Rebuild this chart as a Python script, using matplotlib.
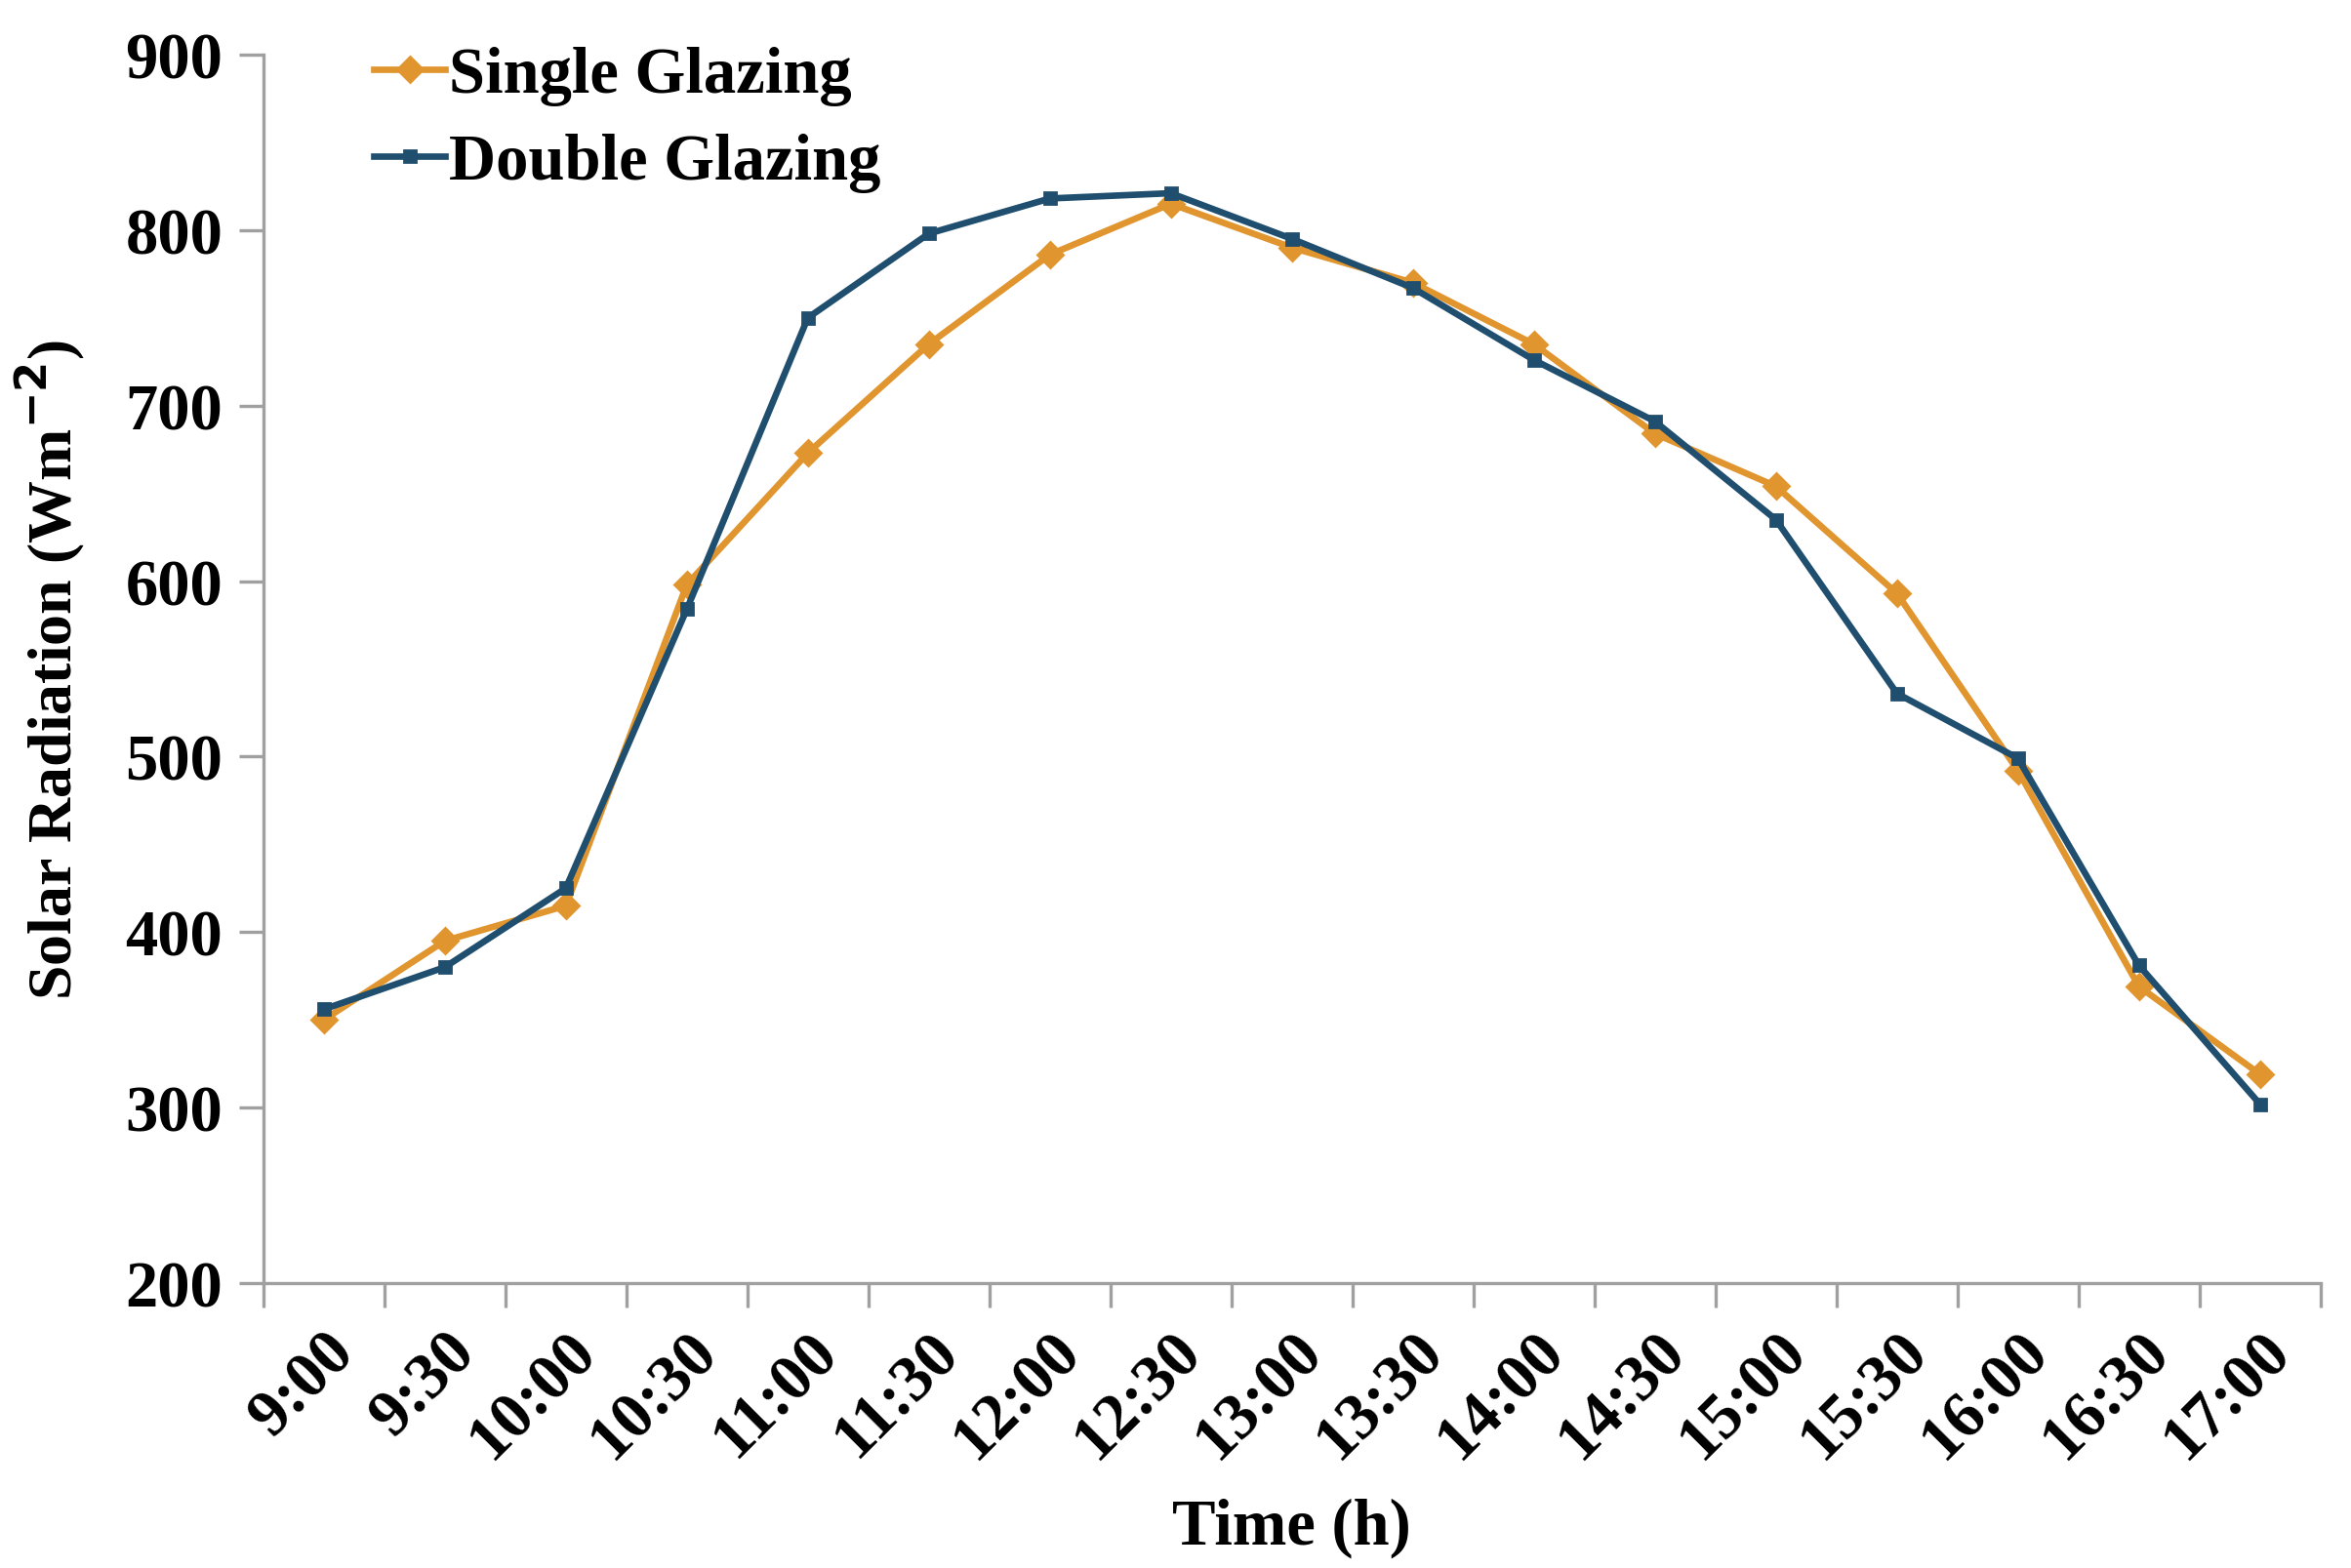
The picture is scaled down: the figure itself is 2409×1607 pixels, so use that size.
import matplotlib.pyplot as plt
import numpy as np

times = ["9:00", "9:30", "10:00", "10:30", "11:00", "11:30", "12:00", "12:30",
         "13:00", "13:30", "14:00", "14:30", "15:00", "15:30", "16:00", "16:30", "17:00"]
single_glazing = [350, 395, 415, 598, 673, 735, 786, 815, 790, 770, 735, 684, 654, 593, 492, 369, 319]
double_glazing = [356, 380, 425, 584, 750, 798, 818, 821, 795, 767, 726, 691, 635, 536, 499, 381, 302]

plt.rcParams['font.family'] = ['Liberation Serif', 'DejaVu Serif']
plt.rcParams['font.weight'] = 'bold'

fig = plt.figure(figsize=(12.045, 8.04), dpi=200)
ax = fig.add_axes([0.112, 0.1816, 0.875, 0.783])

x = np.arange(len(times))
ax.plot(x, single_glazing, color='#E0952F', marker='D', markersize=6.5,
        linewidth=2.4, label='Single Glazing')
ax.plot(x, double_glazing, color='#1F4E6E', marker='s', markersize=4.5,
        linewidth=2.4, label='Double Glazing')

ax.set_xlim(-0.5, len(times) - 0.5)
ax.set_ylim(200, 900)
ax.set_yticks(np.arange(200, 901, 100))

# category boundaries get the tick marks, labels sit at the centres
ax.set_xticks(np.arange(-0.5, len(times), 1.0))
ax.set_xticklabels([])
ax.set_xticks(x, minor=True)
ax.set_xticklabels(times, minor=True, rotation=45, ha='right',
                   rotation_mode='anchor', fontsize=24, fontweight='bold')
ax.tick_params(axis='x', which='minor', length=0, pad=14)
ax.tick_params(axis='x', which='major', length=9, width=1.2, color='#A0A0A0')
ax.tick_params(axis='y', length=9, width=1.2, color='#A0A0A0', labelsize=24, pad=6)

for s in ['top', 'right']:
    ax.spines[s].set_visible(False)
for s in ['left', 'bottom']:
    ax.spines[s].set_color('#A0A0A0')
    ax.spines[s].set_linewidth(1.2)

ax.set_xlabel('Time (h)', fontsize=24, fontweight='bold', labelpad=10)
ax.set_ylabel('Solar Radiation (Wm$^{\\mathrm{-2}}$)', fontsize=23, fontweight='bold', labelpad=14)

ax.legend(loc='upper left', bbox_to_anchor=(0.041, 1.028), frameon=False,
          fontsize=24, handlelength=1.1, handletextpad=0.05, labelspacing=0.42,
          borderaxespad=0)

fig.savefig('out.png', dpi=200)
